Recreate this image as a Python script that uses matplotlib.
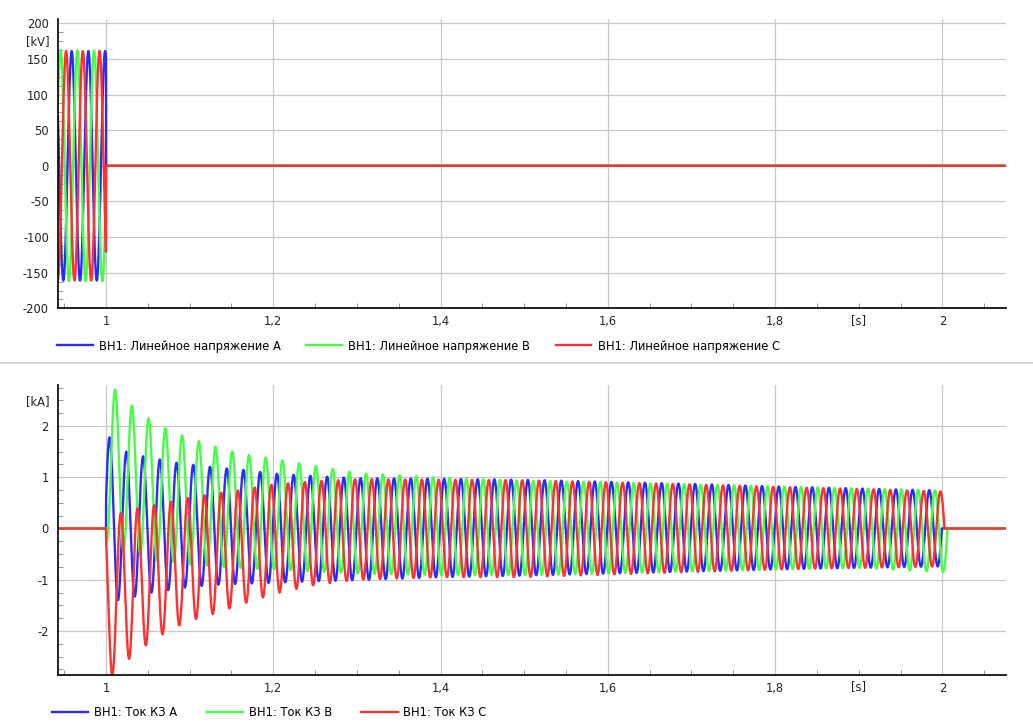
import matplotlib
matplotlib.use('Agg')
import matplotlib.pyplot as plt
from matplotlib.ticker import MultipleLocator
from matplotlib.lines import Line2D
import numpy as np

plt.rcParams['font.family'] = ['DejaVu Sans']
plt.rcParams['axes.unicode_minus'] = False

# --- data ---
freq = 50.0                      # Hz, 1 period = 0.02 s
t_fault = 1.0                    # voltage lost / fault current starts

# voltage: peak value [kV] and time of one positive peak per phase
volt_names = ['ВН1: Линейное напряжение A', 'ВН1: Линейное напряжение B', 'ВН1: Линейное напряжение C']
volt_amp = [161, 162, 161]
volt_peak_t = [0.9990, 0.9857, 0.9923]

# current: envelope of maxima / minima [kA] at these times
cur_names = ['ВН1: Ток КЗ A', 'ВН1: Ток КЗ B', 'ВН1: Ток КЗ C']
env_t = [1.0, 1.02, 1.04, 1.06, 1.08, 1.1, 1.13, 1.16, 1.2, 1.25, 1.3, 1.4, 1.5, 1.6, 1.7, 1.8, 1.9, 2.0, 2.02]
blue_hi = [1.85, 1.52, 1.42, 1.36, 1.29, 1.25, 1.19, 1.15, 1.07, 1.02, 0.98, 0.97, 0.95, 0.91, 0.87, 0.82, 0.78, 0.74, 0.74]
blue_lo = [-1.45, -1.38, -1.31, -1.23, -1.19, -1.14, -1.10, -1.08, -1.06, -1.03, -1.01, -0.95, -0.92, -0.88, -0.84, -0.80, -0.77, -0.74, -0.74]
green_hi = [2.90, 2.55, 2.27, 2.05, 1.88, 1.76, 1.60, 1.46, 1.36, 1.22, 1.08, 0.99, 0.93, 0.90, 0.86, 0.82, 0.78, 0.74, 0.74]
green_lo = [-0.23, -0.42, -0.50, -0.62, -0.66, -0.70, -0.74, -0.77, -0.80, -0.84, -0.88, -0.91, -0.91, -0.88, -0.84, -0.80, -0.77, -0.85, -0.85]
red_hi = [0.22, 0.31, 0.40, 0.46, 0.53, 0.60, 0.68, 0.75, 0.86, 0.92, 0.96, 0.95, 0.94, 0.90, 0.86, 0.81, 0.77, 0.72, 0.72]
red_lo = [-3.00, -2.65, -2.37, -2.14, -1.95, -1.80, -1.66, -1.49, -1.28, -1.10, -1.00, -0.95, -0.95, -0.90, -0.85, -0.80, -0.77, -0.74, -0.74]
cur_peak_t = [1.0244, 1.0110, 1.0177]    # first positive peak A, B, C
cur_end_t = [1.9994, 2.0060, 2.0027]     # current interrupted at zero

colors = ['#2b2bff', '#44ff44', '#ff3030']

t = np.arange(0.9426, 2.077, 0.0001)

def voltage(amp, tp):
    v = amp * np.cos(2 * np.pi * freq * (t - tp))
    v[t >= t_fault] = 0
    return v

def current(hi, lo, tp, te):
    up = np.interp(t, env_t, hi)
    dn = np.interp(t, env_t, lo)
    i = (up + dn) / 2 + (up - dn) / 2 * np.cos(2 * np.pi * freq * (t - tp))
    i[(t < t_fault) | (t > te)] = 0
    return i

fig = plt.figure(figsize=(10.33, 7.27), dpi=100)
ax1 = fig.add_axes([0.0561, 0.5759, 0.9177, 0.398])
ax2 = fig.add_axes([0.0561, 0.0715, 0.9177, 0.399])

for k in range(3):
    ax1.plot(t, voltage(volt_amp[k], volt_peak_t[k]), color=colors[k], lw=1.7, label=volt_names[k])

cur_hi = [blue_hi, green_hi, red_hi]
cur_lo = [blue_lo, green_lo, red_lo]
for k in range(3):
    ax2.plot(t, current(cur_hi[k], cur_lo[k], cur_peak_t[k], cur_end_t[k]),
             color=colors[k], lw=1.7, label=cur_names[k])

ax1.set_ylim(-200, 206)
ax1.yaxis.set_major_locator(MultipleLocator(50))
ax1.yaxis.set_minor_locator(MultipleLocator(12.5))
ax2.set_ylim(-2.86, 2.80)
ax2.yaxis.set_major_locator(MultipleLocator(1))
ax2.yaxis.set_minor_locator(MultipleLocator(0.25))

fs = 8.3
for ax, unit, uy in [(ax1, '[kV]', 174), (ax2, '[kA]', 2.47)]:
    ax.set_xlim(0.9426, 2.076)
    ax.set_xticks([1.0, 1.2, 1.4, 1.6, 1.8, 2.0])
    ax.set_xticklabels(['1', '1,2', '1,4', '1,6', '1,8', '2'])
    ax.xaxis.set_minor_locator(MultipleLocator(0.05))
    ax.grid(True, which='major', color='#c8c8c8', lw=0.9)
    ax.set_axisbelow(True)
    for s in ['top', 'right']:
        ax.spines[s].set_visible(False)
    for s in ['left', 'bottom']:
        ax.spines[s].set_color('#111111')
        ax.spines[s].set_linewidth(1.3)
    ax.tick_params(axis='both', which='both', direction='in', color='#888888', labelsize=fs, labelcolor='#222222')
    ax.tick_params(axis='both', which='major', length=0)
    ax.tick_params(axis='both', which='minor', length=3.5)
    ax.tick_params(axis='x', pad=5)
    ax.tick_params(axis='y', pad=6.5)
    ax.text(1.9, -0.041, '[s]', transform=ax.get_xaxis_transform(), ha='center', va='center', fontsize=fs, color='#222222')
    ax.text(-0.0085, uy, unit, transform=ax.get_yaxis_transform(), ha='right', va='center', fontsize=fs, color='#222222')

ax1.legend(loc='center left', bbox_to_anchor=(57 / 1033, 1 - 346 / 727), bbox_transform=fig.transFigure,
           ncol=3, frameon=False, fontsize=fs, handlelength=3.1, handletextpad=0.55, columnspacing=2.2,
           borderpad=0, borderaxespad=0)
ax2.legend(loc='center left', bbox_to_anchor=(52 / 1033, 1 - 713 / 727), bbox_transform=fig.transFigure,
           ncol=3, frameon=False, fontsize=fs, handlelength=3.15, handletextpad=0.5, columnspacing=2.55,
           borderpad=0, borderaxespad=0)

# separator between the two panels
fig.add_artist(Line2D([0, 1], [1 - 363 / 727, 1 - 363 / 727], transform=fig.transFigure, color='#d0d0d0', lw=1.2))

fig.savefig('out.png', dpi=100)
plt.close(fig)
